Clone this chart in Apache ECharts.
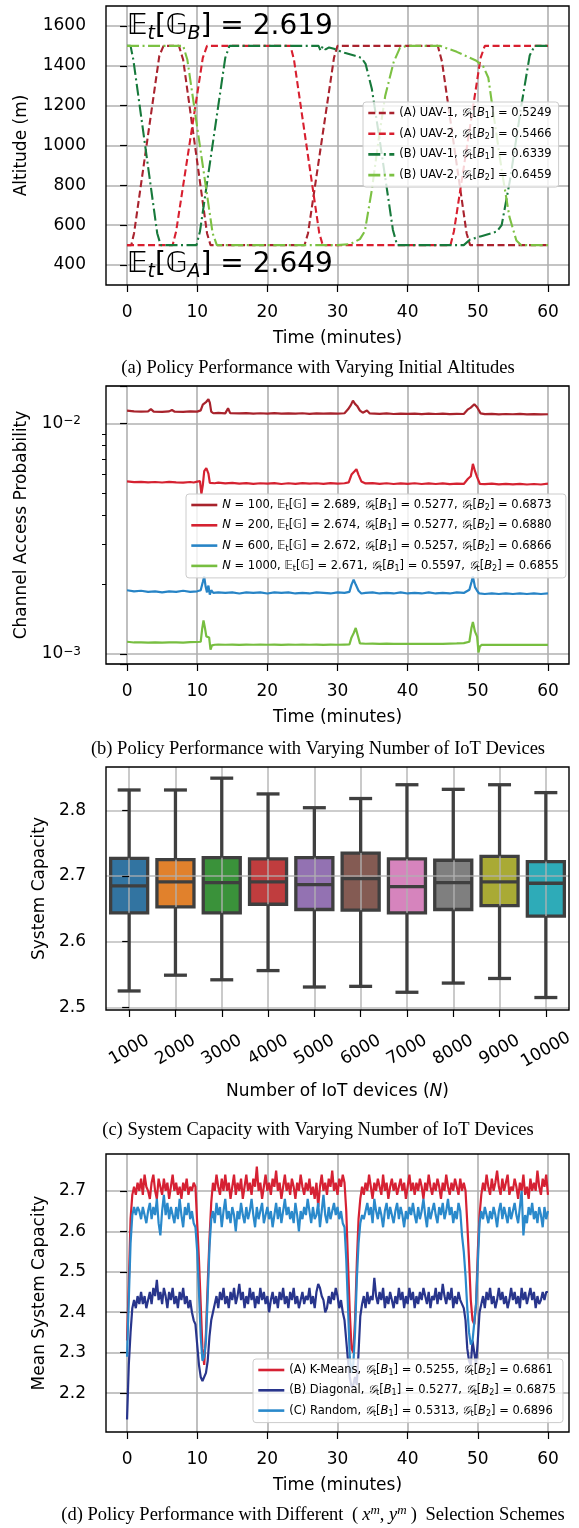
<!DOCTYPE html>
<html>
<head>
<meta charset="utf-8">
<script src="https://cdn.jsdelivr.net/npm/echarts@6/dist/echarts.min.js"></script>
<style>
  html, body { margin: 0; padding: 0; background: #fff; }
  #chart { width: 579px; height: 1528px; }
</style>
</head>
<body>
<div id="chart"></div>
<script>
// ---------------- Panel (a): UAV altitude trajectories [minute, metres] ----------------
const altA1 = [[0,500],[0.6,500],[1.0,560],[4.6,1450],[5.2,1500],[7.4,1500],[8.0,1430],[11.4,560],[11.9,500],[25.3,500],[25.8,560],[29.5,1440],[30.0,1500],[44.3,1500],[44.9,1420],[48.4,560],[48.9,500],[60,500]];
const altA2 = [[0,500],[6.5,500],[7.0,570],[10.8,1440],[11.4,1500],[23.3,1500],[23.8,1430],[27.4,560],[27.9,500],[46.1,500],[46.6,570],[50.4,1440],[51.0,1500],[60,1500]];
const altB1 = [[0,1500],[0.5,1500],[0.9,1430],[4.3,560],[4.8,500],[9.9,500],[10.4,570],[14.0,1440],[14.6,1500],[27.3,1500],[27.6,1475],[27.9,1498],[28.3,1482],[28.8,1492],[29.5,1485],[31,1465],[32.5,1450],[33.4,1440],[34.0,1410],[34.9,1283],[36.0,1031],[37.2,744],[37.9,576],[38.5,500],[48.0,500],[48.9,528],[50.5,545],[52.7,568],[53.4,600],[54.6,829],[56.2,1199],[57.4,1452],[58.1,1500],[60,1500]];
const altB2 = [[0,1500],[8.0,1500],[8.6,1430],[12.2,560],[12.8,500],[30.0,500],[31.8,505],[33.2,530],[33.9,570],[34.9,778],[35.8,1014],[36.8,1249],[38.0,1418],[38.9,1490],[39.9,1500],[44.6,1500],[47.0,1470],[49.8,1425],[50.8,1395],[51.5,1340],[52.2,1166],[53.4,879],[54.5,643],[55.5,523],[56.2,500],[60,500]];
const altNames = ['(A) UAV-1', '(A) UAV-2', '(B) UAV-1', '(B) UAV-2'];
const altBase = ['1', '2', '1', '2'];
const altScores = ['0.5249', '0.5466', '0.6339', '0.6459'];
const capacityAnnot = { B: '2.619', A: '2.649' };
const timeTicks = [0, 10, 20, 30, 40, 50, 60];
const altTicks = [400, 600, 800, 1000, 1200, 1400, 1600];

// ---------------- Panel (b): channel access probability [minute, probability] ----------------
const probN100 = [[0,0.01136],[1,0.01128],[2,0.01125],[3,0.01127],[3.4,0.01152],[3.8,0.01124],[5,0.01122],[6,0.01127],[6.4,0.01143],[6.8,0.01123],[8,0.01121],[9,0.01126],[10,0.01124],[10.5,0.01138],[10.8,0.01205],[11.0,0.01182],[11.3,0.01240],[11.6,0.01272],[11.8,0.01230],[12.0,0.01125],[12.3,0.01106],[13,0.01110],[14,0.01105],[14.4,0.01162],[14.7,0.01108],[16,0.01104],[17,0.01108],[18,0.01102],[19,0.01106],[20,0.01103],[21,0.01107],[22,0.01101],[23,0.01105],[24,0.01102],[25,0.01106],[26,0.01100],[27,0.01104],[28,0.01101],[29,0.01105],[30,0.01102],[31,0.01106],[31.5,0.01150],[31.9,0.01200],[32.2,0.01255],[32.5,0.01215],[32.8,0.01190],[33.2,0.01135],[33.6,0.01112],[34.2,0.01136],[34.6,0.01104],[36,0.01100],[37,0.01104],[38,0.01098],[39,0.01102],[40,0.01099],[41,0.01103],[42,0.01097],[43,0.01101],[44,0.01098],[45,0.01102],[46,0.01097],[47,0.01100],[48,0.01098],[48.6,0.01150],[49.0,0.01170],[49.5,0.01210],[49.9,0.01175],[50.4,0.01105],[51,0.01096],[52,0.01099],[53,0.01094],[54,0.01098],[55,0.01095],[56,0.01099],[57,0.01094],[58,0.01097],[59,0.01093],[60,0.01095]];
const probN200 = [[0,0.00560],[1,0.00556],[2,0.00558],[3,0.00555],[4,0.00557],[5,0.00554],[6,0.00558],[7,0.00555],[8,0.00553],[9,0.00557],[9.5,0.00554],[10,0.00559],[10.4,0.00562],[10.6,0.00495],[10.8,0.00540],[11.0,0.00620],[11.3,0.00639],[11.6,0.00605],[11.8,0.00552],[12.5,0.00550],[13,0.00553],[14,0.00549],[15,0.00552],[16,0.00548],[17,0.00551],[18,0.00547],[19,0.00550],[20,0.00548],[21,0.00551],[22,0.00546],[23,0.00550],[24,0.00547],[25,0.00551],[26,0.00548],[27,0.00550],[28,0.00547],[29,0.00551],[30,0.00548],[31,0.00550],[31.6,0.00555],[32.0,0.00600],[32.4,0.00618],[32.7,0.00633],[33.0,0.00598],[33.4,0.00560],[34,0.00549],[35,0.00551],[36,0.00547],[37,0.00550],[38,0.00546],[39,0.00549],[40,0.00547],[41,0.00550],[42,0.00546],[43,0.00549],[44,0.00546],[45,0.00549],[46,0.00545],[47,0.00548],[48,0.00546],[48.6,0.00575],[49.0,0.00590],[49.3,0.00667],[49.6,0.00620],[49.9,0.00585],[50.3,0.00546],[51,0.00545],[52,0.00548],[53,0.00544],[54,0.00547],[55,0.00544],[56,0.00547],[57,0.00543],[58,0.00546],[59,0.00543],[60,0.00548]];
const probN600 = [[0,0.00189],[1,0.00187],[2,0.00188],[3,0.00186],[4,0.00187],[5,0.00185],[6,0.00187],[7,0.00186],[8,0.00188],[9,0.00186],[10,0.00187],[10.5,0.00189],[10.8,0.00205],[11.0,0.00217],[11.2,0.00196],[11.4,0.00185],[11.6,0.00198],[11.8,0.00181],[12.0,0.00189],[12.3,0.00184],[13,0.00185],[14,0.00184],[15,0.00185],[16,0.00183],[17,0.00185],[18,0.00184],[19,0.00185],[20,0.00183],[21,0.00185],[22,0.00184],[23,0.00185],[24,0.00183],[25,0.00184],[26,0.00183],[27,0.00185],[28,0.00184],[29,0.00183],[30,0.00185],[31,0.00184],[31.7,0.00186],[32.0,0.00200],[32.3,0.00210],[32.6,0.00200],[33.0,0.00188],[33.4,0.00183],[34,0.00184],[35,0.00185],[36,0.00183],[37,0.00184],[38,0.00183],[39,0.00185],[40,0.00183],[41,0.00184],[42,0.00183],[43,0.00185],[44,0.00183],[45,0.00184],[46,0.00183],[47,0.00185],[48,0.00184],[48.8,0.00190],[49.1,0.00205],[49.3,0.00217],[49.6,0.00195],[49.9,0.00188],[50.2,0.00183],[51,0.00182],[52,0.00183],[53,0.00182],[54,0.00183],[55,0.00182],[56,0.00183],[57,0.00182],[58,0.00183],[59,0.00182],[60,0.00183]];
const probN1000 = [[0,0.001130],[1,0.001122],[2,0.001124],[3,0.001121],[4,0.001123],[5,0.001120],[6,0.001122],[7,0.001124],[8,0.001121],[9,0.001125],[10,0.001127],[10.5,0.001130],[10.7,0.001280],[10.9,0.001398],[11.1,0.001300],[11.3,0.001192],[11.5,0.001200],[11.7,0.001180],[11.9,0.001044],[12.1,0.001090],[12.5,0.001097],[13,0.001099],[14,0.001097],[15,0.001098],[16,0.001096],[17,0.001098],[18,0.001097],[19,0.001099],[20,0.001097],[21,0.001098],[22,0.001096],[23,0.001098],[24,0.001097],[25,0.001099],[26,0.001097],[27,0.001098],[28,0.001096],[29,0.001098],[30,0.001097],[31,0.001099],[31.7,0.001100],[32.0,0.001180],[32.3,0.001230],[32.6,0.001296],[32.9,0.001200],[33.2,0.001112],[34,0.001108],[35,0.001109],[36,0.001107],[37,0.001109],[38,0.001107],[39,0.001108],[40,0.001106],[41,0.001108],[42,0.001106],[43,0.001108],[44,0.001106],[45,0.001107],[46,0.001109],[47,0.001111],[48,0.001114],[48.8,0.001130],[49.1,0.001300],[49.3,0.001375],[49.6,0.001250],[49.9,0.001190],[50.1,0.001016],[50.3,0.001080],[50.6,0.001097],[51,0.001096],[52,0.001097],[53,0.001095],[54,0.001096],[55,0.001095],[56,0.001096],[57,0.001095],[58,0.001096],[59,0.001095],[60,0.001096]];
const devNames = ['N = 100', 'N = 200', 'N = 600', 'N = 1000'];
const devCounts = ['100', '200', '600', '1000'];
const devEG = ['2.689', '2.674', '2.672', '2.671'];
const devG1 = ['0.5277', '0.5277', '0.5257', '0.5597'];
const devG2 = ['0.6873', '0.6880', '0.6866', '0.6855'];
const probMinorTicks = [0.002, 0.003, 0.004, 0.005, 0.006, 0.007, 0.008, 0.009];

// ---------------- Panel (c): system capacity distribution per device count ----------------
const boxCategories = ['1000', '2000', '3000', '4000', '5000', '6000', '7000', '8000', '9000', '10000'];
const boxLow    = [2.525, 2.549, 2.542, 2.556, 2.531, 2.532, 2.523, 2.537, 2.544, 2.515];
const boxQ1     = [2.644, 2.653, 2.644, 2.657, 2.649, 2.648, 2.644, 2.649, 2.655, 2.639];
const boxMedian = [2.685, 2.691, 2.690, 2.691, 2.687, 2.696, 2.684, 2.690, 2.691, 2.689];
const boxQ3     = [2.727, 2.725, 2.728, 2.726, 2.728, 2.735, 2.726, 2.724, 2.730, 2.722];
const boxHigh   = [2.831, 2.831, 2.849, 2.825, 2.804, 2.818, 2.839, 2.832, 2.839, 2.827];
const capTicks = [2.5, 2.6, 2.7, 2.8];

// ---------------- Panel (d): mean system capacity, sampled every 0.25 min ----------------
const capKMeans = [
  2.33, 2.47, 2.63, 2.69,  2.71, 2.69, 2.72, 2.70,  2.73, 2.69, 2.74, 2.71,  2.70, 2.68, 2.72, 2.74,
  2.70, 2.68, 2.73, 2.71,  2.69, 2.73, 2.70, 2.72,  2.68, 2.71, 2.74, 2.70,  2.72, 2.69, 2.71, 2.68,
  2.72, 2.70, 2.73, 2.69,  2.71, 2.70, 2.72, 2.71,  2.62, 2.53, 2.42, 2.31,  2.27, 2.35, 2.47, 2.58,
  2.67, 2.72, 2.70, 2.74,  2.71, 2.69, 2.73, 2.70,  2.74, 2.70, 2.72, 2.68,  2.71, 2.74, 2.69, 2.72,
  2.70, 2.73, 2.68, 2.71,  2.74, 2.70, 2.72, 2.69,  2.73, 2.71, 2.76, 2.70,  2.72, 2.68, 2.71, 2.74,
  2.70, 2.72, 2.69, 2.73,  2.71, 2.75, 2.70, 2.72,  2.68, 2.71, 2.74, 2.70,  2.72, 2.69, 2.73, 2.71,
  2.68, 2.72, 2.70, 2.74,  2.71, 2.69, 2.72, 2.70,  2.73, 2.69, 2.71, 2.68,  2.72, 2.66, 2.71, 2.74,
  2.70, 2.72, 2.69, 2.73,  2.71, 2.75, 2.70, 2.72,  2.69, 2.73, 2.71, 2.74,  2.72, 2.65, 2.52, 2.40,
  2.31, 2.30, 2.38, 2.52,  2.63, 2.68, 2.71, 2.69,  2.72, 2.70, 2.74, 2.71,  2.68, 2.72, 2.70, 2.73,
  2.71, 2.69, 2.74, 2.70,  2.72, 2.68, 2.71, 2.73,  2.70, 2.72, 2.69, 2.71,  2.73, 2.70, 2.72, 2.68,
  2.71, 2.74, 2.70, 2.72,  2.69, 2.72, 2.70, 2.73,  2.71, 2.68, 2.72, 2.70,  2.74, 2.71, 2.69, 2.72,
  2.70, 2.73, 2.71, 2.68,  2.72, 2.70, 2.74, 2.71,  2.69, 2.72, 2.70, 2.73,  2.71, 2.69, 2.73, 2.70,
  2.72, 2.70, 2.62, 2.53,  2.43, 2.38, 2.37, 2.42,  2.55, 2.64, 2.69, 2.72,  2.70, 2.74, 2.71, 2.69,
  2.73, 2.70, 2.72, 2.75,  2.71, 2.69, 2.73, 2.70,  2.72, 2.74, 2.69, 2.71,  2.70, 2.73, 2.71, 2.68,
  2.72, 2.70, 2.74, 2.69,  2.71, 2.68, 2.73, 2.70,  2.72, 2.70, 2.75, 2.71,  2.69, 2.73, 2.71, 2.74,
  2.69
];
const capDiagonal = [
  2.135, 2.27, 2.35, 2.41,  2.43, 2.41, 2.44, 2.42,  2.45, 2.42, 2.44, 2.41,  2.43, 2.45, 2.42, 2.46,
  2.44, 2.48, 2.43, 2.45,  2.42, 2.46, 2.44, 2.41,  2.45, 2.43, 2.46, 2.42,  2.44, 2.41, 2.45, 2.43,
  2.46, 2.42, 2.44, 2.41,  2.43, 2.40, 2.38, 2.37,  2.32, 2.27, 2.24, 2.23,  2.23, 2.25, 2.28, 2.34,
  2.38, 2.40, 2.42, 2.44,  2.41, 2.45, 2.43, 2.46,  2.42, 2.44, 2.41, 2.45,  2.43, 2.46, 2.42, 2.44,
  2.47, 2.43, 2.45, 2.41,  2.44, 2.42, 2.46, 2.43,  2.45, 2.41, 2.44, 2.42,  2.46, 2.43, 2.45, 2.42,
  2.44, 2.40, 2.43, 2.45,  2.42, 2.44, 2.41, 2.45,  2.43, 2.46, 2.42, 2.44,  2.41, 2.45, 2.43, 2.46,
  2.42, 2.44, 2.41, 2.43,  2.45, 2.42, 2.44, 2.43,  2.46, 2.42, 2.44, 2.41,  2.45, 2.47, 2.46, 2.44,
  2.43, 2.40, 2.41, 2.44,  2.42, 2.45, 2.43, 2.46,  2.44, 2.41, 2.43, 2.40,  2.38, 2.33, 2.28, 2.24,
  2.215, 2.22, 2.24, 2.22,  2.30, 2.39, 2.42, 2.44,  2.41, 2.45, 2.42, 2.44,  2.43, 2.485, 2.44, 2.42,
  2.45, 2.43, 2.46, 2.41,  2.44, 2.42, 2.45, 2.43,  2.41, 2.44, 2.42, 2.46,  2.43, 2.45, 2.41, 2.44,
  2.42, 2.46, 2.43, 2.45,  2.41, 2.44, 2.42, 2.45,  2.43, 2.46, 2.44, 2.42,  2.45, 2.41, 2.44, 2.43,
  2.46, 2.42, 2.45, 2.43,  2.47, 2.44, 2.42, 2.45,  2.43, 2.46, 2.41, 2.44,  2.42, 2.45, 2.43, 2.43,
  2.41, 2.38, 2.31, 2.28,  2.27, 2.33, 2.30, 2.27,  2.33, 2.40, 2.42, 2.44,  2.41, 2.45, 2.43, 2.46,
  2.42, 2.44, 2.41, 2.43,  2.46, 2.43, 2.45, 2.42,  2.44, 2.41, 2.43, 2.46,  2.43, 2.45, 2.42, 2.44,
  2.41, 2.46, 2.43, 2.45,  2.42, 2.44, 2.46, 2.43,  2.45, 2.41, 2.44, 2.42,  2.43, 2.45, 2.43, 2.45,
  2.45
];
const capRandom = [
  2.29, 2.43, 2.57, 2.64,  2.66, 2.64, 2.66, 2.65,  2.63, 2.66, 2.64, 2.62,  2.65, 2.67, 2.63, 2.66,
  2.64, 2.68, 2.62, 2.59,  2.65, 2.69, 2.64, 2.67,  2.63, 2.66, 2.64, 2.62,  2.66, 2.63, 2.68, 2.64,
  2.61, 2.66, 2.64, 2.67,  2.63, 2.65, 2.62, 2.61,  2.55, 2.45, 2.34, 2.28,  2.29, 2.33, 2.44, 2.56,
  2.63, 2.65, 2.62, 2.67,  2.64, 2.66, 2.61, 2.65,  2.68, 2.63, 2.65, 2.62,  2.66, 2.64, 2.60, 2.65,
  2.63, 2.67, 2.64, 2.62,  2.66, 2.63, 2.65, 2.68,  2.64, 2.61, 2.66, 2.63,  2.65, 2.67, 2.62, 2.64,
  2.66, 2.63, 2.65, 2.61,  2.64, 2.67, 2.63, 2.66,  2.62, 2.65, 2.68, 2.64,  2.66, 2.63, 2.65, 2.62,
  2.67, 2.64, 2.60, 2.65,  2.63, 2.66, 2.64, 2.68,  2.65, 2.62, 2.66, 2.63,  2.64, 2.67, 2.61, 2.65,
  2.69, 2.64, 2.62, 2.66,  2.63, 2.65, 2.67, 2.64,  2.66, 2.63, 2.65, 2.62,  2.61, 2.53, 2.41, 2.29,
  2.25, 2.27, 2.35, 2.48,  2.57, 2.62, 2.64, 2.63,  2.65, 2.67, 2.64, 2.66,  2.62, 2.68, 2.65, 2.63,
  2.66, 2.64, 2.61, 2.65,  2.67, 2.63, 2.66, 2.64,  2.62, 2.65, 2.67, 2.63,  2.66, 2.64, 2.61, 2.65,
  2.63, 2.66, 2.64, 2.67,  2.64, 2.62, 2.66, 2.63,  2.65, 2.68, 2.64, 2.61,  2.66, 2.63, 2.65, 2.67,
  2.64, 2.62, 2.66, 2.64,  2.67, 2.63, 2.65, 2.68,  2.64, 2.66, 2.62, 2.65,  2.63, 2.67, 2.65, 2.59,
  2.55, 2.49, 2.41, 2.35,  2.32, 2.33, 2.33, 2.42,  2.52, 2.62, 2.65, 2.63,  2.66, 2.64, 2.62, 2.65,
  2.63, 2.66, 2.64, 2.61,  2.65, 2.67, 2.63, 2.66,  2.64, 2.62, 2.66, 2.63,  2.65, 2.67, 2.64, 2.62,
  2.66, 2.70, 2.59, 2.64,  2.62, 2.66, 2.64, 2.67,  2.63, 2.65, 2.62, 2.66,  2.64, 2.61, 2.66, 2.63,
  2.65
];
const capStep = 0.25; // minutes between samples
const schemeNames = ['(A) K-Means', '(B) Diagonal', '(C) Random'];
const schemeG1 = ['0.5255', '0.5277', '0.5313'];
const schemeG2 = ['0.6861', '0.6875', '0.6896'];
const meanCapTicks = [2.2, 2.3, 2.4, 2.5, 2.6, 2.7];

// ---------------- styling ----------------
const SANS = 'DejaVu Sans';
const SERIF = 'Liberation Serif';
const GRID_LINE = '#b0b0b0';
const axisFont = { fontFamily: SANS, fontSize: 17, color: '#000' };
const tickStyle = { color: '#000', width: 1.2 };
const near = (v, list) => list.some(t => Math.abs(t - v) < 1e-6);

const altColors = ['#a9232e', '#d81f2f', '#17793b', '#7cc143'];
const devColors = ['#a8232c', '#d52231', '#2784c6', '#77be40'];
const schemeColors = ['#d62133', '#28358c', '#2a89cb'];
const boxColors = ['#3274a1', '#e1812c', '#3a923a', '#c03d3e', '#9372b2', '#845b53', '#d684bd', '#7f7f7f', '#a9aa35', '#2eabb8'];
const boxEdge = '#3f3f3f';

const LF = 11.5;
const legendRich = {
  g: { fontFamily: SANS, fontSize: LF, fontStyle: 'italic', lineHeight: 14 },
  i: { fontFamily: SANS, fontSize: LF, fontStyle: 'italic', lineHeight: 14 },
  d: { fontFamily: SANS, fontSize: LF, lineHeight: 14 },
  n: { fontFamily: SANS, fontSize: 8, verticalAlign: 'bottom', lineHeight: 9 }
};
const gSym = b => `{g|𝒢}{n|t}[{i|B}{n|${b}}]`;

const legendLabel = {};
altNames.forEach((n, k) => { legendLabel[n] = `${n}, ${gSym(altBase[k])} = ${altScores[k]}`; });
devNames.forEach((n, k) => {
  legendLabel[n] = `{i|N} = ${devCounts[k]}, {d|𝔼}{n|t}[{d|𝔾}] = ${devEG[k]}, ${gSym('1')} = ${devG1[k]}, ${gSym('2')} = ${devG2[k]}`;
});
schemeNames.forEach((n, k) => { legendLabel[n] = `${n}, ${gSym('1')} = ${schemeG1[k]}, ${gSym('2')} = ${schemeG2[k]}`; });

function legendBox(names, left, top, gap) {
  return {
    data: names, orient: 'vertical', left, top,
    itemWidth: 26, itemHeight: 14, itemGap: gap,
    padding: [4, 7, 5, 4],
    backgroundColor: 'rgba(255,255,255,0.8)', borderColor: '#cccccc', borderWidth: 1, borderRadius: 3,
    itemStyle: { opacity: 0 },
    lineStyle: { width: 2.6 },
    formatter: name => legendLabel[name],
    textStyle: { fontFamily: SANS, fontSize: LF, color: '#000', lineHeight: 14, rich: legendRich },
    selectedMode: false
  };
}

function timeAxis(gridIndex) {
  return {
    type: 'value', gridIndex, min: -3, max: 63, minInterval: 10, maxInterval: 10,
    axisLine: { show: false },
    axisTick: { show: true, length: 7, lineStyle: tickStyle, customValues: timeTicks },
    axisLabel: { ...axisFont, margin: 19, customValues: timeTicks, formatter: v => near(v, timeTicks) ? String(Math.round(v)) : '' },
    splitLine: { show: true, lineStyle: { color: GRID_LINE, width: 1.6 } },
    name: 'Time (minutes)', nameLocation: 'middle', nameGap: 45, nameTextStyle: axisFont
  };
}

function linearY(gridIndex, min, max, step, ticks, digits, name, nameGap, extra) {
  return Object.assign({
    type: 'value', gridIndex, min, max, minInterval: step, maxInterval: step,
    axisLine: { show: false },
    axisTick: { show: true, length: 7, lineStyle: tickStyle, customValues: ticks },
    axisLabel: { ...axisFont, margin: 20, customValues: ticks, formatter: v => near(v, ticks) ? v.toFixed(digits) : '' },
    splitLine: { show: true, lineStyle: { color: GRID_LINE, width: 1.6 } },
    name, nameLocation: 'middle', nameGap, nameTextStyle: axisFont
  }, extra || {});
}

const frame = { show: true, borderColor: '#000', borderWidth: 1.4, backgroundColor: 'transparent', z: 3 };

function lineSeries(name, data, color, xi, yi, type, width) {
  return {
    name, type: 'line', data, xAxisIndex: xi, yAxisIndex: yi,
    showSymbol: false, symbol: 'none', smooth: false,
    lineStyle: { color, width, type },
    itemStyle: { color }, z: 2
  };
}

const capTimes = capKMeans.map((_, i) => i * capStep);
const withTime = arr => arr.map((v, i) => [capTimes[i], v]);

const lnA = [7, 3.5];
const lnB = [12, 3.5, 2, 3.5];

const bigRich = {
  m: { fontFamily: SANS, fontSize: 28, lineHeight: 34, fill: '#000' },
  s: { fontFamily: SANS, fontSize: 19, fontStyle: 'italic', verticalAlign: 'bottom', lineHeight: 22, fill: '#000' }
};

const boxData = boxCategories.map((_, i) => [i, boxLow[i], boxQ1[i], boxMedian[i], boxQ3[i], boxHigh[i]]);

// box bodies sit under the grid lines; whiskers, caps and medians sit above them
function boxPoints(api) {
  const i = api.value(0);
  return {
    lo: api.coord([i, api.value(1)]), q1: api.coord([i, api.value(2)]), md: api.coord([i, api.value(3)]),
    q3: api.coord([i, api.value(4)]), hi: api.coord([i, api.value(5)]), bw: api.size([0.8, 0])[0]
  };
}

const captionFont = 18.5;

const chart = echarts.init(document.getElementById('chart'), null, { renderer: 'canvas' });

const option = {
  animation: false,
  backgroundColor: '#fff',
  grid: [
    Object.assign({ left: 106, top: 6, width: 463, height: 279 }, frame),
    Object.assign({ left: 106, top: 386, width: 463, height: 278 }, frame),
    Object.assign({ left: 106, top: 767, width: 463, height: 243 }, frame, { z: 12 }),
    Object.assign({ left: 106, top: 1154, width: 463, height: 278 }, frame)
  ],
  xAxis: [
    timeAxis(0),
    timeAxis(1),
    {
      type: 'value', gridIndex: 2, min: -0.5, max: 9.5, minInterval: 1, maxInterval: 1, z: 5,
      axisLine: { show: false },
      axisTick: { show: true, length: 7, lineStyle: tickStyle, customValues: boxCategories.map((_, i) => i) },
      axisLabel: {
        ...axisFont, rotate: 30, align: 'center', verticalAlign: 'middle', margin: 40,
        customValues: boxCategories.map((_, i) => i),
        formatter: v => (Math.abs(v - Math.round(v)) < 1e-6 && v >= 0 && v <= 9) ? boxCategories[Math.round(v)] : ''
      },
      splitLine: { show: true, lineStyle: { color: 'rgba(176,176,176,0.85)', width: 1.6 } },
      name: 'Number of IoT devices ({i|N})', nameLocation: 'middle', nameGap: 73,
      nameTextStyle: { ...axisFont, rich: { i: { fontFamily: SANS, fontSize: 17, fontStyle: 'italic' } } }
    },
    timeAxis(3)
  ],
  yAxis: [
    linearY(0, 300, 1700, 200, altTicks, 0, 'Altitude (m)', 76),
    {
      type: 'log', logBase: 10, gridIndex: 1, min: 0.000905, max: 0.01452,
      axisLine: { show: false },
      axisTick: { show: true, length: 7, lineStyle: tickStyle },
      axisLabel: {
        ...axisFont, margin: 25,
        formatter: v => {
          const e = Math.log10(v);
          if (Math.abs(e - Math.round(e)) > 1e-6) return '';
          return '10{sup|\u2212' + (-Math.round(e)) + '}';
        },
        rich: { sup: { fontFamily: SANS, fontSize: 12, verticalAlign: 'top', lineHeight: 11, color: '#000' } }
      },
      splitLine: { show: true, lineStyle: { color: GRID_LINE, width: 1.6 } },
      name: 'Channel Access Probability', nameLocation: 'middle', nameGap: 76, nameTextStyle: axisFont
    },
    {
      type: 'value', gridIndex: 1, position: 'left', min: Math.log10(0.000905), max: Math.log10(0.01452),
      axisLine: { show: false }, axisLabel: { show: false }, splitLine: { show: false },
      axisTick: { show: true, length: 4, lineStyle: { color: '#000', width: 1 }, customValues: probMinorTicks.map(Math.log10) }
    },
    linearY(2, 2.496, 2.866, 0.1, capTicks, 1, 'System Capacity', 58,
      { z: 5, splitLine: { show: true, lineStyle: { color: 'rgba(176,176,176,0.85)', width: 1.6 } } }),
    linearY(3, 2.104, 2.791, 0.1, meanCapTicks, 1, 'Mean System Capacity', 58)
  ],
  legend: [
    legendBox(altNames, 363, 102, 6.7),
    legendBox(devNames, 186, 494, 6.3),
    legendBox(schemeNames, 253, 1359, 6.3)
  ],
  series: [
    lineSeries(altNames[0], altA1, altColors[0], 0, 0, lnA, 2.1),
    lineSeries(altNames[1], altA2, altColors[1], 0, 0, lnA, 2.1),
    lineSeries(altNames[2], altB1, altColors[2], 0, 0, lnB, 2.1),
    lineSeries(altNames[3], altB2, altColors[3], 0, 0, lnB, 2.1),

    lineSeries(devNames[0], probN100, devColors[0], 1, 1, 'solid', 2.2),
    lineSeries(devNames[1], probN200, devColors[1], 1, 1, 'solid', 2.2),
    lineSeries(devNames[2], probN600, devColors[2], 1, 1, 'solid', 2.2),
    lineSeries(devNames[3], probN1000, devColors[3], 1, 1, 'solid', 2.2),

    {
      type: 'custom', xAxisIndex: 2, yAxisIndex: 3, z: 2,
      data: boxData,
      encode: { x: 0, y: [1, 2, 3, 4, 5] },
      renderItem(params, api) {
        const p = boxPoints(api);
        const cx = p.lo[0];
        return {
          type: 'rect', shape: { x: cx - p.bw / 2, y: p.q3[1], width: p.bw, height: p.q1[1] - p.q3[1] },
          style: { fill: boxColors[params.dataIndex], stroke: boxEdge, lineWidth: 3.3 }
        };
      }
    },
    {
      type: 'custom', xAxisIndex: 2, yAxisIndex: 3, z: 8,
      data: boxData,
      encode: { x: 0, y: [1, 2, 3, 4, 5] },
      renderItem(params, api) {
        const p = boxPoints(api);
        const cx = p.lo[0];
        const cw = p.bw * 0.62;
        const stroke = { stroke: boxEdge, lineWidth: 3.3 };
        return {
          type: 'group',
          children: [
            { type: 'line', shape: { x1: cx, y1: p.lo[1], x2: cx, y2: p.q1[1] }, style: stroke },
            { type: 'line', shape: { x1: cx, y1: p.q3[1], x2: cx, y2: p.hi[1] }, style: stroke },
            { type: 'line', shape: { x1: cx - cw / 2, y1: p.lo[1], x2: cx + cw / 2, y2: p.lo[1] }, style: stroke },
            { type: 'line', shape: { x1: cx - cw / 2, y1: p.hi[1], x2: cx + cw / 2, y2: p.hi[1] }, style: stroke },
            { type: 'line', shape: { x1: cx - p.bw / 2, y1: p.md[1], x2: cx + p.bw / 2, y2: p.md[1] }, style: stroke }
          ]
        };
      }
    },

    lineSeries(schemeNames[0], withTime(capKMeans), schemeColors[0], 3, 4, 'solid', 2.2),
    lineSeries(schemeNames[1], withTime(capDiagonal), schemeColors[1], 3, 4, 'solid', 2.2),
    lineSeries(schemeNames[2], withTime(capRandom), schemeColors[2], 3, 4, 'solid', 2.2)
  ],
  graphic: [
    { type: 'text', x: 127, y: 27, z: 50,
      style: { text: `{m|𝔼}{s|t}{m|[𝔾}{s|B}{m|] = ${capacityAnnot.B}}`, rich: bigRich, align: 'left', verticalAlign: 'middle' } },
    { type: 'text', x: 127, y: 265, z: 50,
      style: { text: `{m|𝔼}{s|t}{m|[𝔾}{s|A}{m|] = ${capacityAnnot.A}}`, rich: bigRich, align: 'left', verticalAlign: 'middle' } },
    { type: 'text', x: 318, y: 368,
      style: { text: '(a) Policy Performance with Varying Initial Altitudes', fontFamily: SERIF, fontSize: captionFont, fill: '#000', align: 'center', verticalAlign: 'middle' } },
    { type: 'text', x: 318, y: 749,
      style: { text: '(b) Policy Performance with Varying Number of IoT Devices', fontFamily: SERIF, fontSize: captionFont, fill: '#000', align: 'center', verticalAlign: 'middle' } },
    { type: 'text', x: 318, y: 1130,
      style: { text: '(c) System Capacity with Varying Number of IoT Devices', fontFamily: SERIF, fontSize: captionFont, fill: '#000', align: 'center', verticalAlign: 'middle' } },
    { type: 'text', x: 313, y: 1515,
      style: {
        text: '{r|(d) Policy Performance with Different }{q|(}{i|x}{p|m}{r|, }{i|y}{p|m}{q|)}{r| Selection Schemes}',
        align: 'center', verticalAlign: 'middle',
        rich: {
          r: { fontFamily: SERIF, fontSize: captionFont, fill: '#000', lineHeight: 22 },
          q: { fontFamily: SERIF, fontSize: captionFont, fill: '#000', lineHeight: 22, padding: [0, 4, 0, 4] },
          i: { fontFamily: SERIF, fontSize: captionFont, fontStyle: 'italic', fill: '#000', lineHeight: 22 },
          p: { fontFamily: SERIF, fontSize: 13, fontStyle: 'italic', fill: '#000', verticalAlign: 'top', lineHeight: 13 }
        }
      } }
  ]
};

chart.setOption(option);
</script>
</body>
</html>
